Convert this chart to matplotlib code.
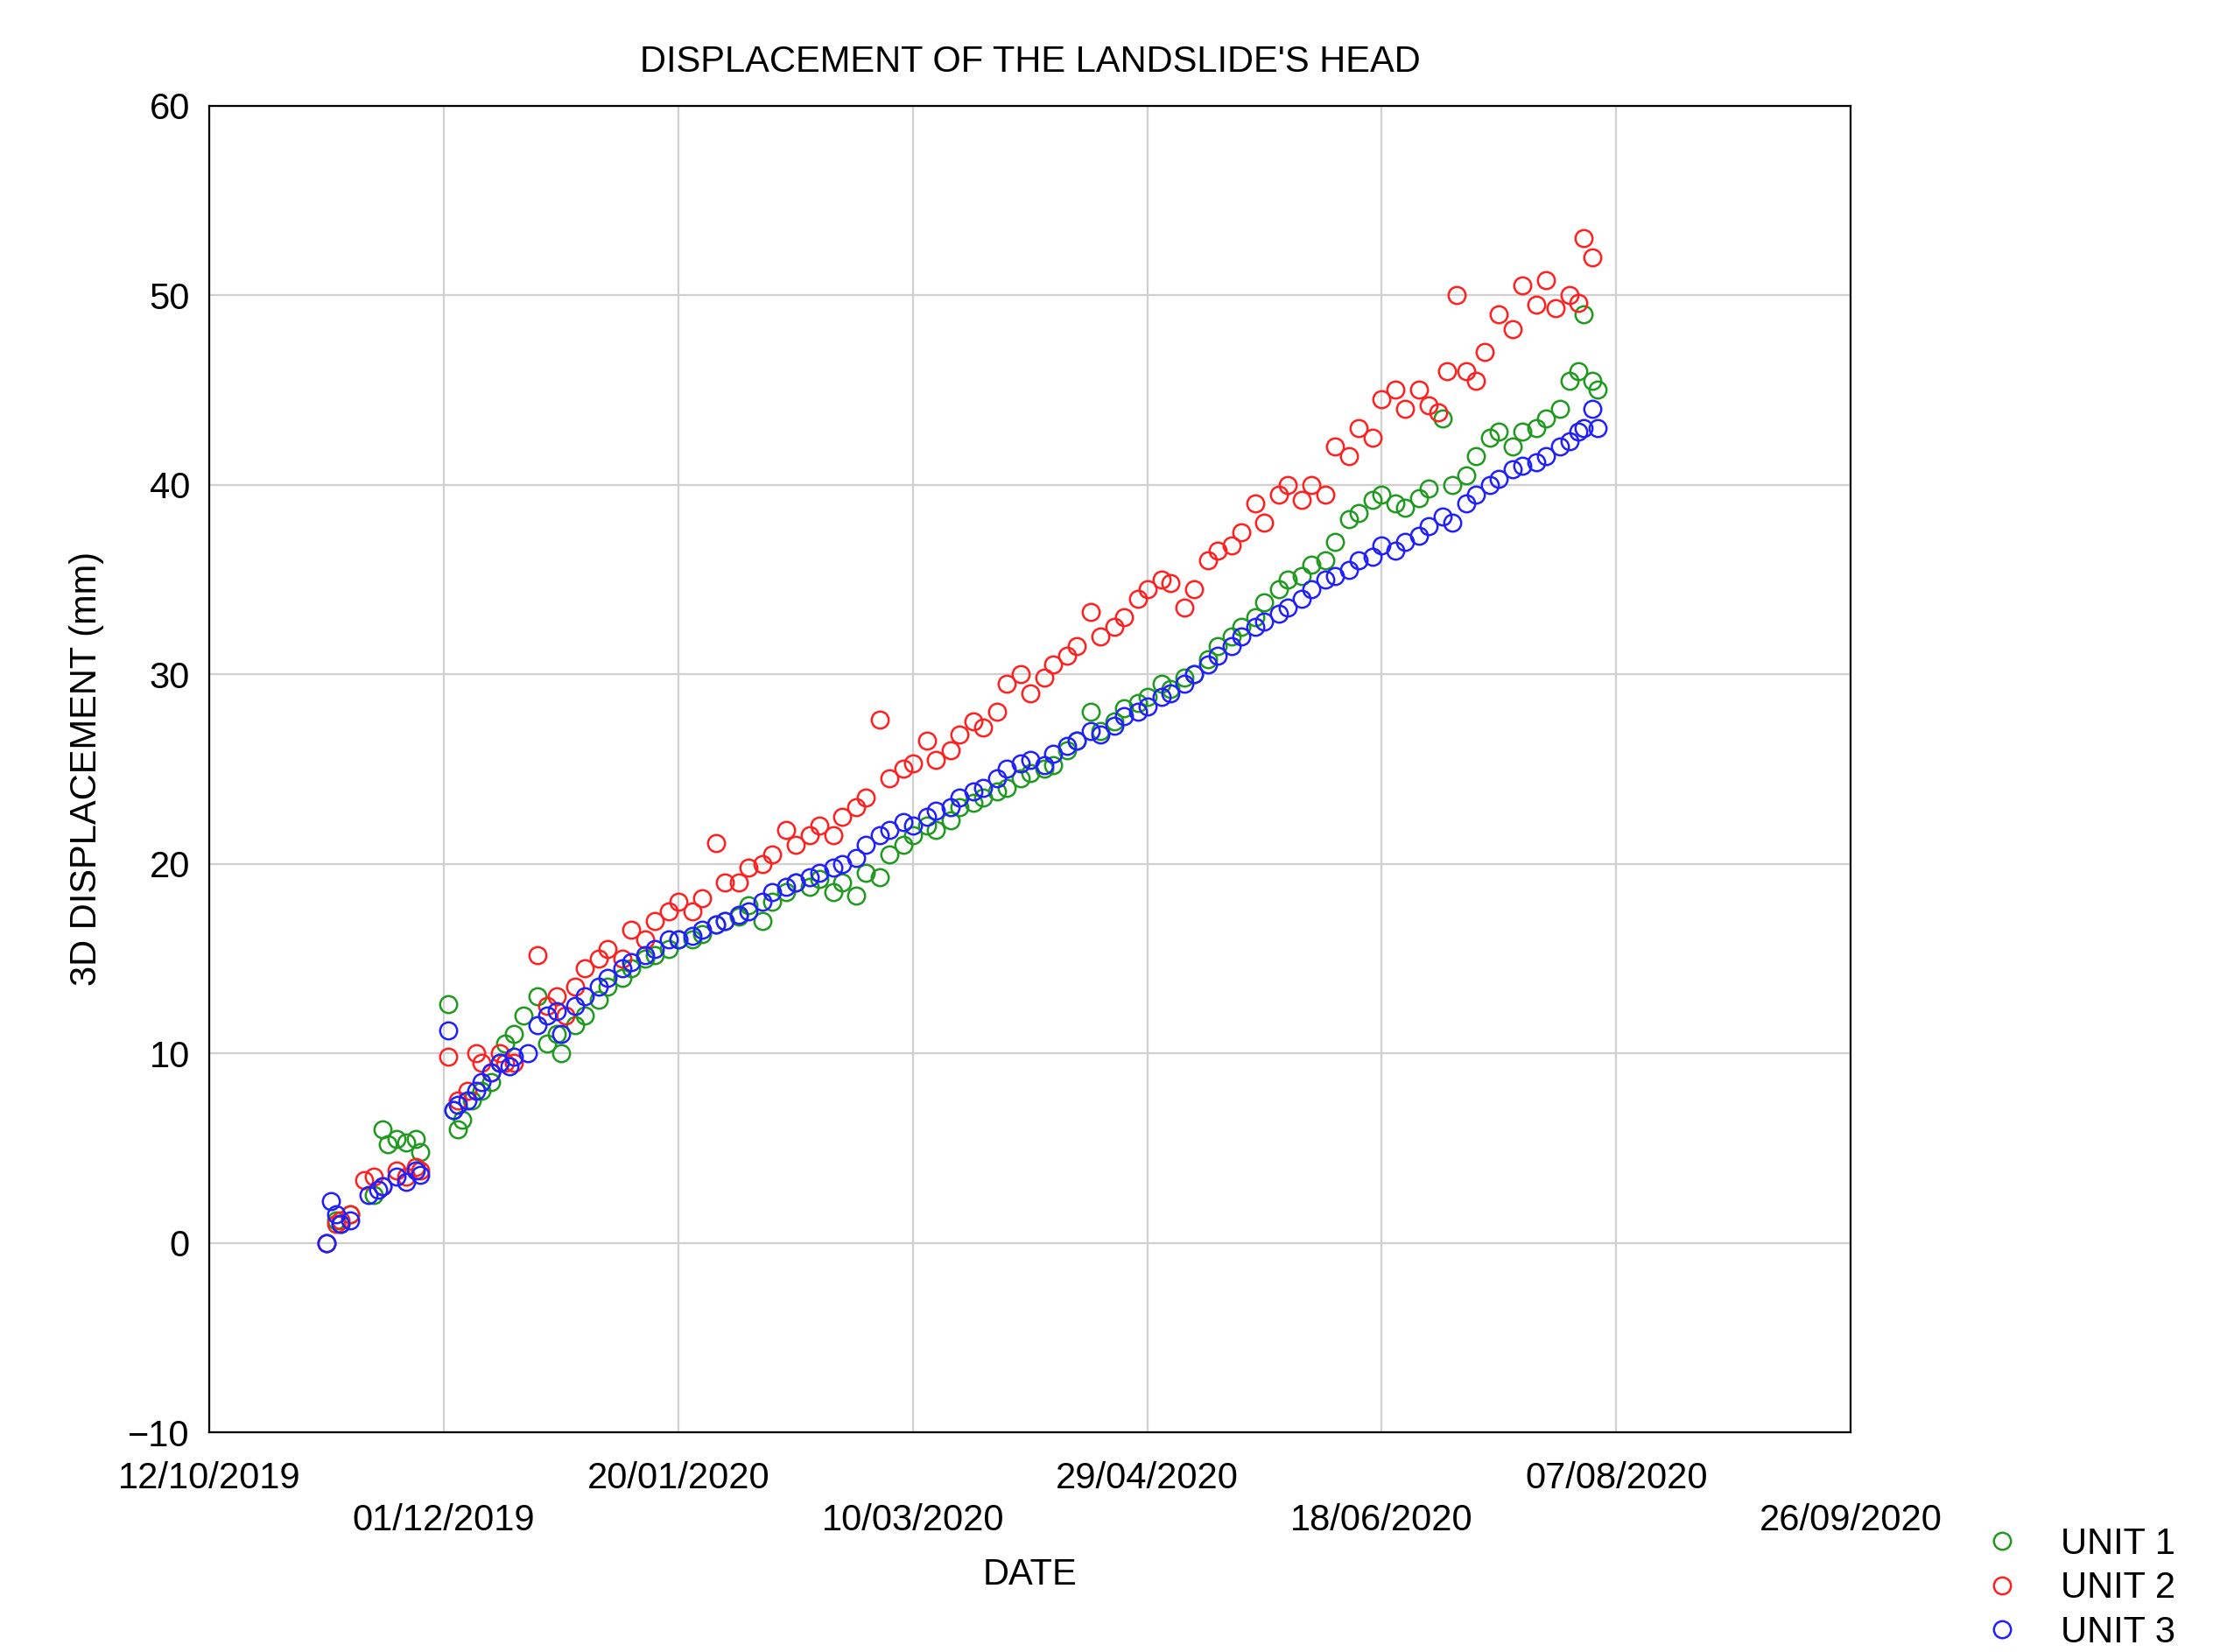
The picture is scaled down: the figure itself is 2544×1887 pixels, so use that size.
import matplotlib
matplotlib.use("Agg")
import matplotlib.pyplot as plt
import datetime as dt

plt.rcParams['font.family'] = ['Liberation Sans', 'DejaVu Sans']

start = dt.date(2019, 10, 12)
tick_labels = ["12/10/2019", "01/12/2019", "20/01/2020", "10/03/2020",
               "29/04/2020", "18/06/2020", "07/08/2020", "26/09/2020"]

# day offsets from 12/10/2019 and displacement (mm)
u1_days = [25,27,28,30,35,37,38,40,42,44,45,51,52,53,54,56,58,60,62,63,65,67,70,72,74,75,78,80,83,85,88,90,93,95,98,100,103,105,108,110,113,115,118,120,123,125,128,130,133,135,138,140,143,145,148,150,153,155,158,160,163,165,168,170,173,175,178,180,183,185,188,190,193,195,198,200,203,205,208,210,213,215,218,220,223,225,228,230,233,235,238,240,243,245,248,250,253,255,258,260,263,265,268,270,273,275,278,280,283,285,288,290,292,293,295,296]
u1_vals = [0,1.2,1,1.5,2.5,6,5.2,5.5,5.3,5.5,4.8,12.6,7,6,6.5,7.5,8,8.5,9.5,10.5,11,12,13,10.5,11,10,11.5,12,12.8,13.5,14,14.5,15,15.2,15.5,16,16,16.3,16.8,17,17.2,17.8,17,18,18.5,19,18.8,19.2,18.5,19,18.3,19.5,19.3,20.5,21,21.5,22,21.8,22.3,23,23.2,23.5,23.8,24,24.5,24.8,25,25.2,26,26.5,28,27,27.5,28.2,28.5,28.8,29.5,29.2,29.8,30,30.8,31.5,32,32.5,33,33.8,34.5,35,35.2,35.8,36,37,38.2,38.5,39.2,39.5,39,38.8,39.3,39.8,43.5,40,40.5,41.5,42.5,42.8,42,42.8,43,43.5,44,45.5,46,49,45.5,45]

u2_days = [25,27,28,30,33,35,37,40,42,44,45,51,53,55,57,58,60,62,63,65,70,72,74,76,78,80,83,85,88,90,93,95,98,100,103,105,108,110,113,115,118,120,123,125,128,130,133,135,138,140,143,145,148,150,153,155,158,160,163,165,168,170,173,175,178,180,183,185,188,190,193,195,198,200,203,205,208,210,213,215,218,220,223,225,228,230,233,235,238,240,243,245,248,250,253,255,258,260,262,264,266,268,270,272,275,278,280,283,285,287,290,292,293,295]
u2_vals = [0,1,1.2,1.5,3.3,3.5,3,3.8,3.5,4,3.8,9.8,7.5,8,10,9.5,9,10,9.5,9.5,15.2,12.5,13,12,13.5,14.5,15,15.5,15,16.5,16,17,17.5,18,17.5,18.2,21.1,19,19,19.8,20,20.5,21.8,21,21.5,22,21.5,22.5,23,23.5,27.6,24.5,25,25.3,26.5,25.5,26,26.8,27.5,27.2,28,29.5,30,29,29.8,30.5,31,31.5,33.3,32,32.5,33,34,34.5,35,34.8,33.5,34.5,36,36.5,36.8,37.5,39,38,39.5,40,39.2,40,39.5,42,41.5,43,42.5,44.5,45,44,45,44.2,43.8,46,50,46,45.5,47,49,48.2,50.5,49.5,50.8,49.3,50,49.6,53,52]

u3_days = [25,26,27,28,30,34,36,37,40,42,44,45,51,52,53,55,57,58,60,62,64,65,68,70,72,74,75,78,80,83,85,88,90,93,95,98,100,103,105,108,110,113,115,118,120,123,125,128,130,133,135,138,140,143,145,148,150,153,155,158,160,163,165,168,170,173,175,178,180,183,185,188,190,193,195,198,200,203,205,208,210,213,215,218,220,223,225,228,230,233,235,238,240,243,245,248,250,253,255,258,260,263,265,268,270,273,275,278,280,283,285,288,290,292,293,295,296]
u3_vals = [0,2.2,1.5,1,1.2,2.5,2.8,3,3.5,3.2,3.8,3.6,11.2,7,7.3,7.5,8,8.5,9,9.5,9.3,9.8,10,11.5,12,12.2,11,12.5,13,13.5,14,14.5,14.8,15.2,15.5,16,16,16.2,16.5,16.8,17,17.3,17.5,18,18.5,18.8,19,19.3,19.5,19.8,20,20.3,21,21.5,21.8,22.2,22,22.5,22.8,23,23.5,23.8,24,24.5,25,25.3,25.5,25.2,25.8,26.2,26.5,27,26.8,27.3,27.8,28,28.3,28.8,29,29.5,30,30.5,31,31.5,32,32.5,32.8,33.2,33.5,34,34.5,35,35.2,35.5,36,36.2,36.8,36.5,37,37.3,37.8,38.3,38,39,39.5,40,40.3,40.8,41,41.2,41.5,42,42.3,42.8,43,44,43]

def todates(days):
    return [start + dt.timedelta(days=d) for d in days]

fs = 15
fig = plt.figure(figsize=(12.72, 9.435), dpi=200)
ax = fig.add_axes([0.094, 0.133, 0.737, 0.803])
ax.set_axisbelow(True)
ax.grid(True, color="#d0d0d0", lw=0.8)

ms = 7
ax.plot(todates(u1_days), u1_vals, "o", mfc="none", mec="#1f9a1f", ms=ms, mew=0.9, label="UNIT 1")
ax.plot(todates(u2_days), u2_vals, "o", mfc="none", mec="#ff2020", ms=ms, mew=0.9, label="UNIT 2")
ax.plot(todates(u3_days), u3_vals, "o", mfc="none", mec="#2020ff", ms=ms, mew=0.9, label="UNIT 3")

tick_dates = [dt.datetime.strptime(t, "%d/%m/%Y").date() for t in tick_labels]
ax.set_xlim(tick_dates[0], tick_dates[-1])
ax.set_xticks(tick_dates)
ax.set_xticklabels([("" if i % 2 == 0 else "\n") + t for i, t in enumerate(tick_labels)],
                   fontsize=fs, linespacing=1.25)
ax.set_ylim(-10, 60)
ax.set_yticks(range(-10, 61, 10))
ax.tick_params(axis="y", labelsize=fs, pad=8)
ax.tick_params(axis="x", pad=12)
ax.tick_params(direction="in", length=0)
for s in ax.spines.values():
    s.set_color("black")
ax.set_title("DISPLACEMENT OF THE LANDSLIDE'S HEAD", fontsize=fs, pad=14)
ax.set_xlabel("DATE", fontsize=fs, labelpad=8)
ax.set_ylabel("3D DISPLACEMENT (mm)", fontsize=fs, labelpad=10)
ax.legend(loc="lower left", bbox_to_anchor=(1.07, -0.175), frameon=False, fontsize=fs,
          handletextpad=1.0, borderaxespad=0, labelspacing=0.25, handlelength=1.2)
fig.savefig("out.png", dpi=200)
